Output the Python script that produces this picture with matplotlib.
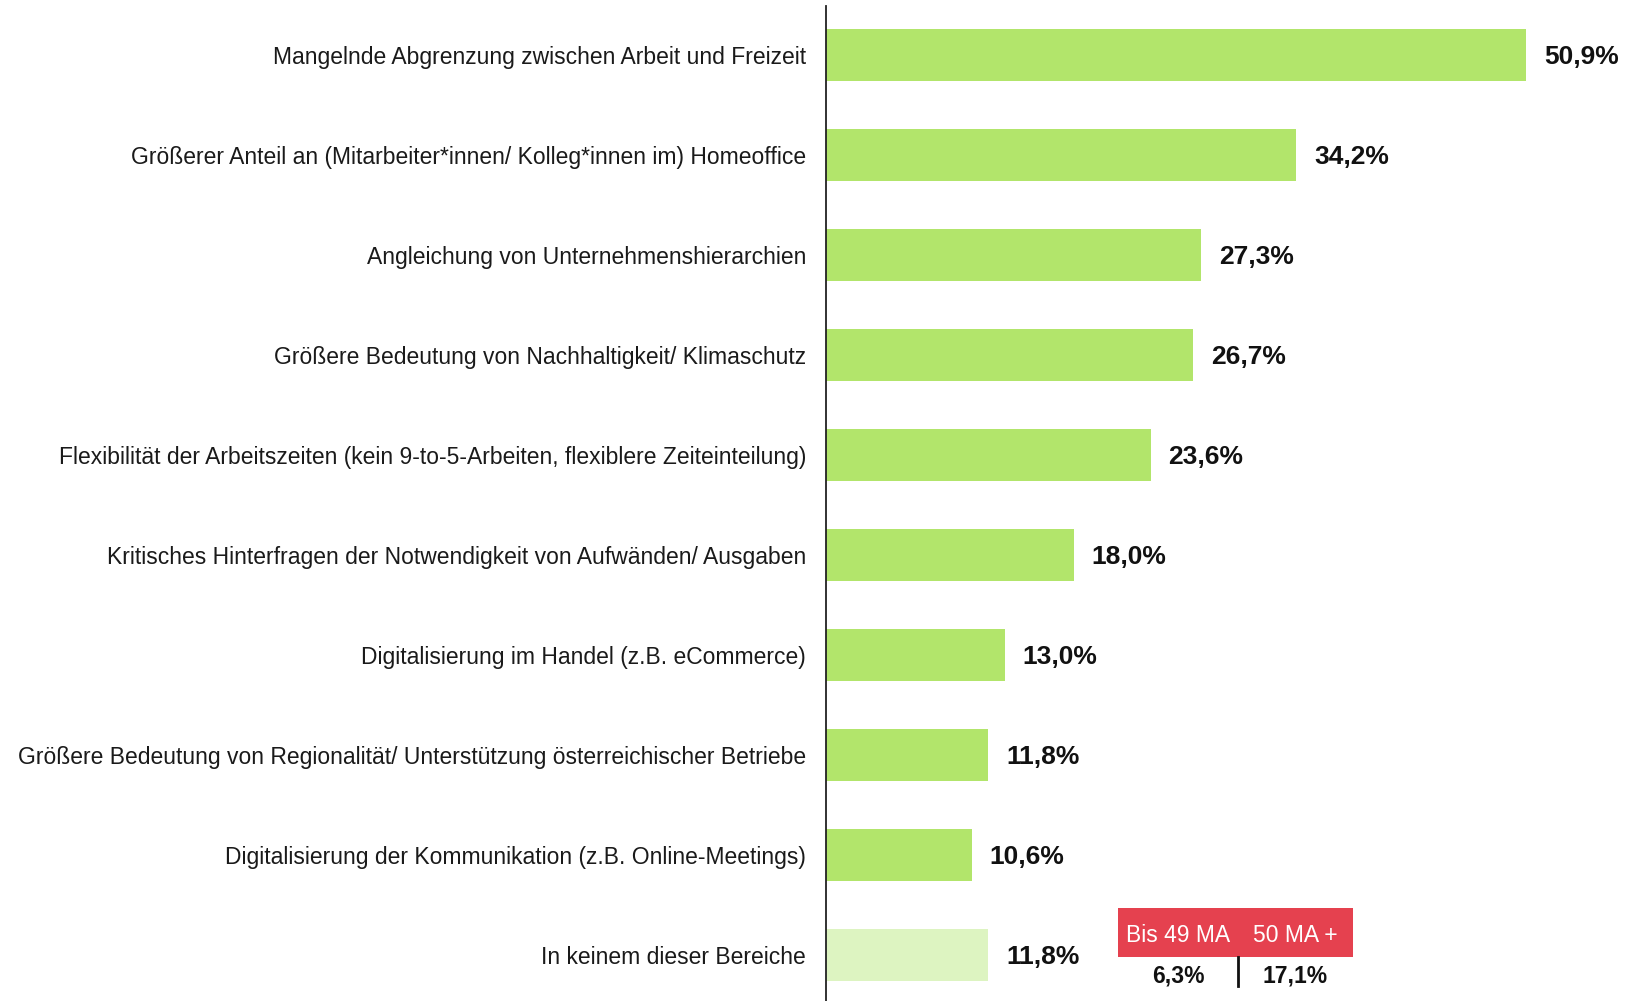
import matplotlib
matplotlib.use("Agg")
import matplotlib.pyplot as plt
from matplotlib.patches import Rectangle

categories = [
    "Mangelnde Abgrenzung zwischen Arbeit und Freizeit",
    "Größerer Anteil an (Mitarbeiter*innen/ Kolleg*innen im) Homeoffice",
    "Angleichung von Unternehmenshierarchien",
    "Größere Bedeutung von Nachhaltigkeit/ Klimaschutz",
    "Flexibilität der Arbeitszeiten (kein 9-to-5-Arbeiten, flexiblere Zeiteinteilung)",
    "Kritisches Hinterfragen der Notwendigkeit von Aufwänden/ Ausgaben",
    "Digitalisierung im Handel (z.B. eCommerce)",
    "Größere Bedeutung von Regionalität/ Unterstützung österreichischer Betriebe",
    "Digitalisierung der Kommunikation (z.B. Online-Meetings)",
    "In keinem dieser Bereiche",
]
values = [50.9, 34.2, 27.3, 26.7, 23.6, 18.0, 13.0, 11.8, 10.6, 11.8]
value_labels = ["50,9%", "34,2%", "27,3%", "26,7%", "23,6%", "18,0%", "13,0%", "11,8%", "10,6%", "11,8%"]
group_names = ["Bis 49 MA", "50 MA +"]
group_labels = ["6,3%", "17,1%"]

plt.rcParams['font.family'] = ['Liberation Sans', 'DejaVu Sans']

W, H = 1639, 1001
fig = plt.figure(figsize=(W / 100, H / 100), dpi=100)
ax = fig.add_axes([826 / W, 0, 1 - 826 / W, 1 - 6 / H])

colors = ["#b2e56b"] * (len(values) - 1) + ["#ddf4c1"]
y = list(range(len(values)))
ax.barh(y, values, height=0.52, color=colors, zorder=2)
ax.set_xlim(0, (W - 826) / 13.75)
ax.set_ylim(9.46, -0.49)

for yi, v, lab in zip(y, values, value_labels):
    ax.annotate(lab, (v, yi), xytext=(18, -2), textcoords="offset pixels",
                ha="left", va="center", fontsize=19, fontweight="bold", color="#111111")

ax.set_yticks(y)
ax.set_yticklabels(categories, fontsize=16.5, color="#1a1a1a")
ax.tick_params(axis="y", length=0, pad=14.4)
ax.set_xticks([])
for s in ["top", "right", "bottom"]:
    ax.spines[s].set_visible(False)
ax.spines["left"].set_color("#222222")
ax.spines["left"].set_linewidth(1.3)

# red box annotation for last category
box_x0, box_x1 = 1118, 1353
box_y0, box_y1 = 908, 957
fig.patches.append(Rectangle((box_x0 / W, 1 - box_y1 / H), (box_x1 - box_x0) / W, (box_y1 - box_y0) / H,
                             transform=fig.transFigure, facecolor="#e5414f", edgecolor="none"))
centers = [1178, 1295]
for cx, name, lab in zip(centers, group_names, group_labels):
    fig.text(cx / W, 1 - 935 / H, name, ha="center", va="center", fontsize=16.5, color="white")
    fig.text(cx / W, 1 - 976 / H, lab, ha="center", va="center", fontsize=16.5, fontweight="bold", color="#111111")
fig.add_artist(plt.Line2D([1238 / W, 1238 / W], [1 - 957 / H, 1 - 986 / H], transform=fig.transFigure,
                          color="#111111", linewidth=2))

fig.savefig("out.png", dpi=100)
